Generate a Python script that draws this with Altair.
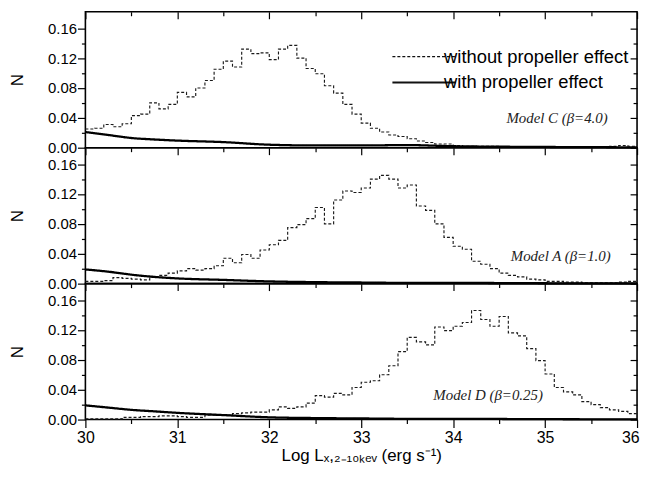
import altair as alt
import pandas as pd

# ---------------- data ----------------
SERIES = ["without propeller effect", "with propeller effect"]

# histogram bins (left edges), width 0.1
BIN_EDGES = [round(30 + 0.1 * i, 1) for i in range(60)] + [36.0]

HIST_C = [0.025, 0.026, 0.031, 0.028, 0.032, 0.043, 0.045, 0.060, 0.052, 0.058,
          0.074, 0.068, 0.080, 0.090, 0.105, 0.116, 0.108, 0.132, 0.126, 0.127,
          0.118, 0.132, 0.137, 0.120, 0.106, 0.099, 0.083, 0.073, 0.058, 0.045,
          0.033, 0.026, 0.021, 0.017, 0.015, 0.012, 0.009, 0.007, 0.005, 0.005,
          0.003, 0.002, 0.002, 0.002, 0.002, 0.001, 0.001, 0.001, 0.001, 0.001,
          0.001, 0.001, 0.001, 0.001, 0.001, 0.001, 0.001, 0.002, 0.003, 0.002]

HIST_A = [0.003, 0.003, 0.004, 0.008, 0.007, 0.006, 0.005, 0.009, 0.011, 0.014,
          0.017, 0.020, 0.018, 0.020, 0.024, 0.034, 0.028, 0.039, 0.034, 0.045,
          0.052, 0.058, 0.075, 0.079, 0.087, 0.102, 0.080, 0.112, 0.124, 0.122,
          0.128, 0.140, 0.145, 0.140, 0.128, 0.132, 0.104, 0.098, 0.080, 0.062,
          0.050, 0.046, 0.030, 0.026, 0.020, 0.014, 0.011, 0.009, 0.006, 0.005,
          0.003, 0.003, 0.002, 0.002, 0.001, 0.001, 0.001, 0.001, 0.002, 0.003]

HIST_D = [0.001, 0.001, 0.001, 0.001, 0.003, 0.003, 0.004, 0.004, 0.005, 0.005,
          0.004, 0.003, 0.003, 0.006, 0.006, 0.006, 0.008, 0.009, 0.010, 0.010,
          0.013, 0.017, 0.015, 0.017, 0.022, 0.032, 0.030, 0.035, 0.033, 0.043,
          0.050, 0.052, 0.060, 0.072, 0.091, 0.110, 0.104, 0.100, 0.124, 0.119,
          0.125, 0.130, 0.146, 0.134, 0.125, 0.138, 0.116, 0.112, 0.095, 0.079,
          0.061, 0.043, 0.037, 0.033, 0.024, 0.020, 0.016, 0.013, 0.011, 0.008]

CURVE_X = [30, 30.25, 30.5, 30.75, 31, 31.5, 32, 32.5, 33, 33.5, 34, 35, 36]
CURVE_C = [0.021, 0.017, 0.013, 0.011, 0.0095, 0.0075, 0.004, 0.003, 0.003, 0.0035, 0.002, 0.001, 0.0005]
CURVE_A = [0.019, 0.016, 0.012, 0.009, 0.007, 0.005, 0.003, 0.002, 0.0015, 0.001, 0.001, 0.0005, 0.0003]
CURVE_D = [0.019, 0.016, 0.013, 0.011, 0.009, 0.006, 0.003, 0.002, 0.0015, 0.001, 0.001, 0.0005, 0.0003]

MODEL_LABELS = ["Model C (\u03b2=4.0)", "Model A (\u03b2=1.0)", "Model D (\u03b2=0.25)"]
LABEL_X = [35.13, 35.17, 34.38]
LABEL_Y = [0.040, 0.037, 0.033]

X_TICKS = [30 + 0.5 * i for i in range(13)]
Y_TICKS = [round(0.02 * i, 2) for i in range(9)]

# ---------------- style ----------------
FONT = "Liberation Sans"
W, H = 556, 137
XDOM, YDOM = [30, 36], [0, 0.182]
MAJOR_X = "datum.value % 1 === 0"
MAJOR_Y = "round(datum.value * 100) % 4 === 0"
XTITLE = "Log L\u2093,\u2082\u208b\u2081\u2080\u2096\u2091\u1d65 (erg s\u207b\u00b9)"

xscale = alt.Scale(domain=XDOM, nice=False, zero=False)
yscale = alt.Scale(domain=YDOM, nice=False, zero=False)
dash_scale = alt.Scale(domain=SERIES, range=[[3, 2], [1, 0]])


def make_legend(show):
    if not show:
        return None
    return alt.Legend(
        title=None, orient="none", legendX=332, legendY=36,
        symbolType="stroke", symbolSize=4050, symbolStrokeColor="#111",
        symbolStrokeWidth={"expr": "datum.value === 'with propeller effect' ? 2.2 : 1.1"},
        symbolOffset=0, padding=0,
        labelFont=FONT, labelFontSize=18.5, labelColor="black", labelOffset=11,
        labelLimit=0, rowPadding=7,
    )


def panel(hist, curve, idx, bottom, show_legend):
    hist_df = pd.DataFrame({"x": BIN_EDGES, "N": hist + [hist[-1]], "s": SERIES[0]})
    curve_df = pd.DataFrame({"x": CURVE_X, "N": curve, "s": SERIES[1]})
    lab_df = pd.DataFrame({"x": [LABEL_X[idx]], "y": [LABEL_Y[idx]], "t": [MODEL_LABELS[idx]]})

    if bottom:
        x_axis = alt.Axis(
            orient="bottom", values=X_TICKS, title=XTITLE, domain=False, grid=False,
            labelExpr="datum.value % 1 === 0 ? format(datum.value, 'd') : ''",
            tickSize={"condition": {"test": MAJOR_X, "value": 8}, "value": 4},
            labelAlign={"condition": {"test": "datum.value === 36", "value": "right"}, "value": "center"},
            labelOffset={"condition": {"test": "datum.value === 36", "value": 2}, "value": 0},
            labelFlush=False, labelOverlap=False, labelPadding=2,
            titlePadding=2,
        )
    else:
        x_axis = None

    y_axis = alt.Axis(
        orient="left", values=Y_TICKS, title="N", domain=False, grid=False,
        labelExpr=MAJOR_Y + " ? format(datum.value, '.2f') : ''",
        tickSize={"condition": {"test": MAJOR_Y, "value": 8}, "value": 4},
        labelFlush=False, labelOverlap=False, labelPadding=1, titlePadding=21,
    )

    legend = make_legend(show_legend)

    h = alt.Chart(hist_df).mark_line(interpolate="step-after", color="#1a1a1a", strokeWidth=1.15).encode(
        x=alt.X("x:Q", scale=xscale, axis=x_axis),
        y=alt.Y("N:Q", scale=yscale, axis=y_axis),
        strokeDash=alt.StrokeDash("s:N", scale=dash_scale, legend=legend),
    )
    c = alt.Chart(curve_df).mark_line(interpolate="monotone", color="black", strokeWidth=2.3).encode(
        x=alt.X("x:Q", scale=xscale, axis=None),
        y=alt.Y("N:Q", scale=yscale, axis=None),
        strokeDash=alt.StrokeDash("s:N", scale=dash_scale, legend=legend),
    )
    t = alt.Chart(lab_df).mark_text(font="Liberation Serif", fontStyle="italic", fontSize=15,
                                     color="#222").encode(
        x=alt.X("x:Q", scale=xscale, axis=None),
        y=alt.Y("y:Q", scale=yscale, axis=None),
        text="t:N",
    )
    # inward ticks on the top and right frame edges
    top_axis = alt.Axis(orient="bottom", offset=-H, values=X_TICKS, labels=False, domain=False,
                        grid=False, title=None,
                        tickSize={"condition": {"test": MAJOR_X, "value": 7}, "value": 4})
    right_axis = alt.Axis(orient="left", offset=-W, values=Y_TICKS, labels=False, domain=False,
                          grid=False, title=None,
                          tickSize={"condition": {"test": MAJOR_Y, "value": 7}, "value": 4})
    a = alt.Chart(hist_df).mark_point(opacity=0).encode(
        x=alt.X("x:Q", scale=xscale, axis=top_axis),
        y=alt.Y("N:Q", scale=yscale, axis=right_axis),
    )
    return alt.layer(h, c, t, a).resolve_axis(x="independent", y="independent").properties(
        width=W, height=H)


p1 = panel(HIST_C, CURVE_C, 0, False, True)
p2 = panel(HIST_A, CURVE_A, 1, False, False)
p3 = panel(HIST_D, CURVE_D, 2, True, False)

chart = alt.vconcat(p1, p2, p3, spacing=0, bounds="flush").resolve_scale(
    strokeDash="independent").resolve_legend(strokeDash="independent").properties(
    padding={"left": 0, "top": 0, "right": 0, "bottom": 0}
).configure_view(stroke="black", strokeWidth=1.6).configure_axis(
    labelFont=FONT, labelFontSize=15, labelColor="black",
    titleFont=FONT, titleFontSize=17, titleFontWeight="normal", titleColor="black",
    tickColor="black", tickWidth=1.2,
).configure_axisX(labelFontSize=16)

chart.save("out.html", embed_options={"renderer": "svg", "actions": False})
